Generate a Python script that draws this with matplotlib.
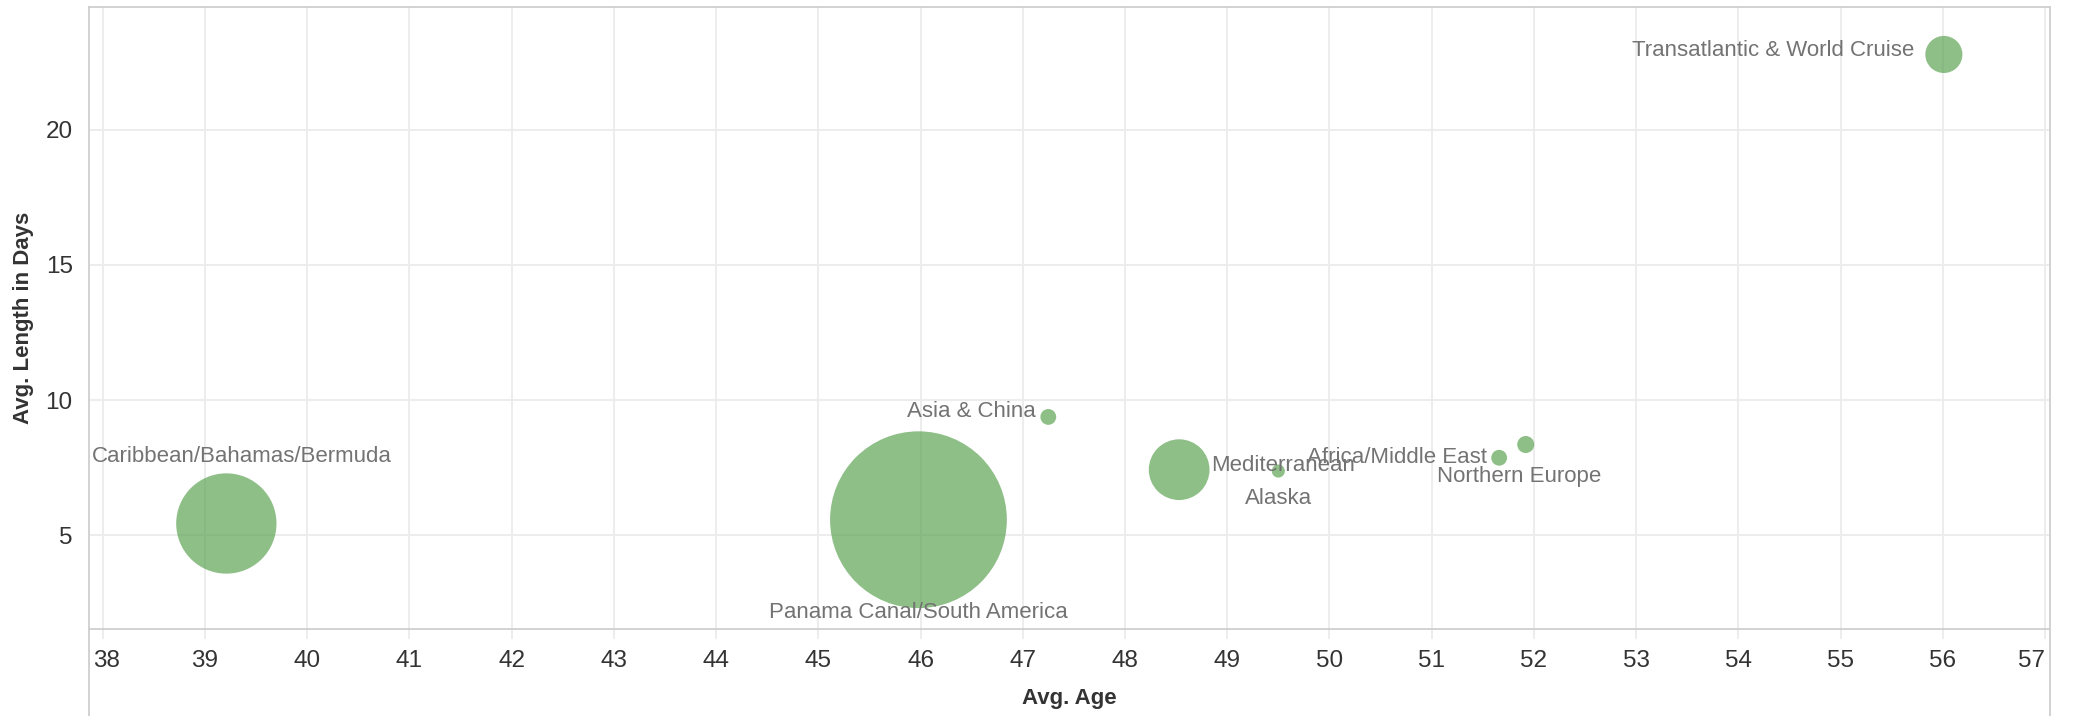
import matplotlib.pyplot as plt
from matplotlib.lines import Line2D
from matplotlib.transforms import ScaledTranslation

# Avg. age vs avg. cruise length by destination, bubble = relative number of cruises
regions = ['Caribbean/Bahamas/Bermuda', 'Panama Canal/South America', 'Asia & China',
           'Mediterranean', 'Alaska', 'Africa/Middle East', 'Northern Europe',
           'Transatlantic & World Cruise']
avg_age = [39.21, 45.98, 47.25, 48.53, 49.5, 51.66, 51.92, 56.01]
avg_length = [5.44, 5.58, 9.38, 7.43, 7.38, 7.87, 8.36, 22.78]
num_cruises = [322, 1000, 8, 118, 5.5, 8, 9.3, 44]

# label offsets in points (dx, dy) and horizontal alignment per bubble
label_offsets = [(11, 48), (0, -67), (-9, 4), (23, 3), (0, -20), (-9, 0), (-5, -23), (-21, 3)]
label_ha = ['center', 'center', 'right', 'left', 'center', 'right', 'center', 'right']

plt.rcParams['font.family'] = ['Liberation Sans', 'DejaVu Sans']

fig = plt.figure(figsize=(20.73, 7.16), dpi=100)
ax_left, ax_bottom, ax_right, ax_top = 0.0431, 0.1219, 0.989, 0.9908
ax = fig.add_axes([ax_left, ax_bottom, ax_right - ax_left, ax_top - ax_bottom])

sizes = [n * 16.2 for n in num_cruises]
order = sorted(range(len(regions)), key=lambda i: -sizes[i])
for z, i in enumerate(order):
    ax.scatter(avg_age[i], avg_length[i], s=sizes[i], color='#59A14F', alpha=0.68,
               edgecolors='none', zorder=3 + z)

for i, name in enumerate(regions):
    ax.annotate(name, (avg_age[i], avg_length[i]), xytext=label_offsets[i],
                textcoords='offset points', ha=label_ha[i], va='center',
                fontsize=16, color='#737373', zorder=20)

ax.set_xlim(37.87, 57.05)
ax.set_ylim(1.55, 24.55)
ax.set_xticks(range(38, 58))
ax.set_yticks([5, 10, 15, 20])
ax.grid(True, color='#ececec', lw=1.3)
ax.set_axisbelow(True)

for s in ax.spines.values():
    s.set_color('#cfcfcf')
    s.set_linewidth(1.3)

ax.tick_params(axis='x', length=7, color='#ececec', width=1.3, pad=8,
               labelsize=17.5, labelcolor='#333333')
ax.tick_params(axis='y', length=0, pad=12, labelsize=17.5, labelcolor='#333333')

# end labels are kept inside the frame, as in the source
xlabels = ax.get_xticklabels()
xlabels[0].set_transform(xlabels[0].get_transform() + ScaledTranslation(3 / 72, 0, fig.dpi_scale_trans))
xlabels[-1].set_horizontalalignment('right')

ax.set_xlabel('Avg. Age', fontsize=16, fontweight='bold', color='#333333', labelpad=12)
ax.set_ylabel('Avg. Length in Days', fontsize=16, fontweight='bold', color='#333333',
              labelpad=8)

# frame lines continue down past the x axis like the source dashboard
for xf in (ax_left, ax_right):
    fig.add_artist(Line2D([xf, xf], [0, ax_bottom], color='#cfcfcf', lw=1.3))

fig.savefig('out.png', dpi=100)
